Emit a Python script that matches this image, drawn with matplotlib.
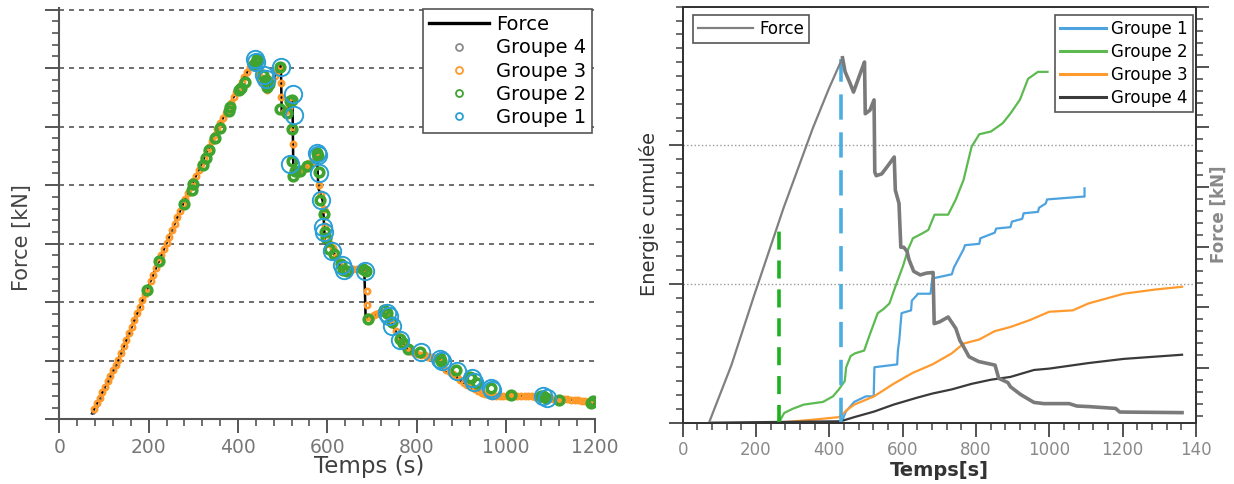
import numpy as np
import matplotlib
matplotlib.use('Agg')
import matplotlib.pyplot as plt
from matplotlib.lines import Line2D
from matplotlib.ticker import MultipleLocator

## force curve (same test on both panels)
force_t = [73, 133, 195, 275, 355, 399, 436, 443, 457, 466, 479, 488, 496, 498, 511, 522, 524, 528,
           543, 564, 577, 580, 590, 595, 603, 612, 617, 630, 648, 665, 683, 686, 701, 724, 745, 756,
           763, 781, 807, 852, 862, 887, 894, 922, 958, 985, 1054, 1075, 1109, 1181, 1192, 1362]
force_v = [0.10, 1.04, 2.20, 3.65, 4.98, 5.64, 6.15, 5.92, 5.72, 5.58, 5.80, 5.95, 6.08, 5.22, 5.28,
           5.45, 4.25, 4.19, 4.22, 4.39, 4.50, 3.95, 3.73, 3.00, 3.00, 2.93, 2.80, 2.60, 2.54, 2.57,
           2.58, 1.73, 1.76, 1.84, 1.65, 1.45, 1.38, 1.18, 1.10, 1.04, 0.82, 0.75, 0.68, 0.55, 0.42,
           0.40, 0.40, 0.36, 0.35, 0.32, 0.26, 0.25]
i_peak = 6

## left panel : events per group (time, force)
g4_t = [76, 82, 90, 100, 108, 114, 120, 126, 140, 156, 170, 250, 290, 320, 340]
g4_v = [0.13, 0.22, 0.36, 0.52, 0.65, 0.74, 0.85, 0.94, 1.17, 1.47, 1.73, 3.21, 3.90, 4.40, 4.73]

g3_t = [78, 84, 90, 96, 102, 108, 114, 120, 126, 132, 138, 144, 150, 156, 162, 168, 174, 180, 186,
        192, 198, 204, 210, 216, 222, 228, 234, 240, 246, 252, 258, 264, 270, 276, 282, 288, 294,
        300, 306, 312, 318, 324, 330, 336, 342, 348, 354, 360, 366, 372, 378, 384, 390, 396, 402,
        408, 414, 420, 426, 432,
        440, 446, 452, 458, 464, 470, 476, 482, 488, 494, 497, 497, 502, 508, 514, 520, 523, 523,
        530, 536, 542, 548, 554, 560, 566, 572, 578, 582, 586, 592, 594, 598, 606, 612, 620, 626,
        634, 642, 650, 658, 666, 674, 682, 688, 688, 692, 698, 704, 710, 716, 722, 730, 738, 746,
        754, 762, 770, 778, 786, 794, 802, 810, 818, 826, 834, 842, 850, 858, 866, 874, 882, 890,
        898, 906, 914, 922, 930, 938, 946, 954, 962, 970, 978, 986, 994, 1002, 1010, 1018, 1026,
        1034, 1042, 1050, 1058, 1066, 1074, 1082, 1090, 1098, 1106, 1114, 1122, 1130, 1138, 1146,
        1154, 1162, 1170, 1178, 1186, 1194]
g3_v = [0.18, 0.27, 0.37, 0.46, 0.55, 0.65, 0.74, 0.84, 0.93, 1.02, 1.13, 1.25, 1.36, 1.47, 1.58,
        1.69, 1.81, 1.92, 2.03, 2.14, 2.25, 2.36, 2.47, 2.58, 2.69, 2.80, 2.91, 3.01, 3.12, 3.23,
        3.34, 3.45, 3.56, 3.67, 3.77, 3.87, 3.97, 4.07, 4.16, 4.26, 4.36, 4.46, 4.56, 4.66, 4.76,
        4.86, 4.96, 5.06, 5.14, 5.23, 5.32, 5.41, 5.50, 5.59, 5.68, 5.76, 5.84, 5.93, 6.01, 6.09,
        6.00, 5.88, 5.78, 5.72, 5.62, 5.70, 5.78, 5.86, 5.95, 6.04, 5.75, 5.50, 5.25, 5.27, 5.33,
        5.42, 5.00, 4.70, 4.20, 4.20, 4.22, 4.28, 4.33, 4.37, 4.40, 4.45, 4.48, 4.00, 3.85, 3.60,
        3.30, 3.10, 3.00, 2.93, 2.78, 2.65, 2.58, 2.55, 2.54, 2.56, 2.57, 2.57, 2.57, 2.20, 1.95,
        1.74, 1.75, 1.78, 1.80, 1.82, 1.84, 1.82, 1.75, 1.62, 1.50, 1.40, 1.30, 1.22, 1.16, 1.13,
        1.12, 1.10, 1.09, 1.07, 1.06, 1.05, 1.04, 0.95, 0.85, 0.80, 0.77, 0.72, 0.67, 0.62, 0.58,
        0.55, 0.52, 0.48, 0.45, 0.43, 0.41, 0.40, 0.40, 0.40, 0.40, 0.40, 0.40, 0.40, 0.40, 0.40,
        0.40, 0.40, 0.39, 0.38, 0.37, 0.37, 0.36, 0.36, 0.35, 0.35, 0.34, 0.34, 0.34, 0.33, 0.33,
        0.33, 0.32, 0.32, 0.30, 0.28]

g2_t = [196, 223, 278, 296, 300, 321, 329, 335, 349, 360, 379, 382, 403, 406, 416, 435, 442, 440,
        457, 462, 465, 470, 495, 494, 510, 517, 521, 521, 521, 524, 528, 540, 554, 578, 580, 581,
        584, 592, 595, 597, 604, 615, 630, 636, 644, 680, 686, 691, 728, 733, 746, 763, 770, 781,
        808, 852, 855, 888, 920, 923, 935, 968, 1012, 1080, 1083, 1090, 1120, 1190, 1195]
g2_v = [2.21, 2.70, 3.67, 3.91, 4.02, 4.34, 4.46, 4.60, 4.81, 4.98, 5.27, 5.33, 5.62, 5.66, 5.77,
        6.06, 6.15, 6.10, 5.89, 5.80, 5.67, 5.72, 6.02, 5.30, 5.24, 5.44, 5.45, 4.96, 4.42, 4.16,
        4.25, 4.25, 4.33, 4.55, 4.50, 4.22, 3.74, 3.51, 3.20, 3.10, 2.91, 2.83, 2.66, 2.55, 2.54,
        2.56, 2.54, 1.72, 1.86, 1.81, 1.66, 1.38, 1.30, 1.20, 1.15, 1.04, 1.00, 0.84, 0.72, 0.70,
        0.62, 0.53, 0.41, 0.40, 0.39, 0.36, 0.33, 0.27, 0.32]

g1_t = [437, 441, 458, 462, 497, 523, 525, 517, 580, 578, 582, 586, 590, 592, 611, 632, 638, 685,
        734, 738, 746, 762, 810, 852, 856, 890, 925, 928, 968, 970, 1083, 1092]
g1_v = [6.15, 6.10, 5.88, 5.82, 6.02, 5.55, 5.20, 4.36, 4.52, 4.55, 4.20, 3.74, 3.28, 3.20, 2.88,
        2.63, 2.55, 2.54, 1.82, 1.76, 1.60, 1.36, 1.15, 1.03, 1.00, 0.82, 0.70, 0.64, 0.53, 0.50,
        0.40, 0.36]

## right panel : cumulated energy per group
e1_t = [433, 445, 468, 500, 521, 523, 585, 587, 591, 594, 597, 623, 625, 639, 641, 676, 681, 734,
        740, 766, 770, 809, 812, 851, 855, 894, 898, 926, 930, 969, 972, 990, 994, 1090, 1096, 1096]
e1_v = [0.00, 0.08, 0.15, 0.19, 0.19, 0.40, 0.42, 0.52, 0.60, 0.70, 0.79, 0.81, 0.88, 0.92, 0.93,
        0.93, 1.04, 1.07, 1.12, 1.25, 1.28, 1.29, 1.33, 1.37, 1.40, 1.41, 1.45, 1.47, 1.51, 1.52,
        1.55, 1.58, 1.61, 1.63, 1.63, 1.69]
e2_t = [262, 277, 300, 330, 383, 410, 426, 442, 446, 458, 470, 495, 511, 532, 548, 564, 580, 601,
        615, 628, 650, 670, 687, 724, 745, 766, 788, 809, 841, 873, 894, 920, 942, 969, 995]
e2_v = [0.00, 0.07, 0.10, 0.13, 0.15, 0.19, 0.24, 0.30, 0.40, 0.48, 0.50, 0.52, 0.64, 0.79, 0.82,
        0.86, 0.98, 1.13, 1.25, 1.33, 1.36, 1.39, 1.50, 1.50, 1.61, 1.75, 1.99, 2.08, 2.10, 2.16,
        2.23, 2.33, 2.48, 2.53, 2.53]
e3_t = [262, 350, 426, 436, 447, 468, 522, 575, 628, 681, 734, 766, 809, 851, 894, 947, 1000, 1064,
        1107, 1203, 1288, 1362]
e3_v = [0.00, 0.02, 0.04, 0.06, 0.09, 0.13, 0.19, 0.28, 0.36, 0.42, 0.50, 0.57, 0.60, 0.66, 0.69,
        0.74, 0.80, 0.81, 0.86, 0.93, 0.96, 0.98]
e4_t = [75, 431, 468, 522, 575, 639, 681, 734, 788, 841, 894, 958, 1000, 1107, 1203, 1362]
e4_v = [0.00, 0.01, 0.04, 0.08, 0.13, 0.18, 0.21, 0.24, 0.28, 0.31, 0.33, 0.38, 0.39, 0.43, 0.46,
        0.49]

t_green, e_green = 262, 1.44   # green dashed marker
t_blue, e_blue = 433, 2.62     # blue dashed marker

xticks_r = [0, 200, 400, 600, 800, 1000, 1200, 1400]
xlabels_r = ['0', '200', '400', '600', '800', '1000', '1200', '140']

c_g4, c_g3, c_g2, c_g1 = '#8a8a8a', '#ff9a2a', '#3ea32f', '#2a9fd6'
tickc = '#555555'

fig = plt.figure(figsize=(12.34, 4.84), dpi=100)

##### left panel
ax = fig.add_axes([0.0482, 0.1337, 0.434, 0.849])
ax.plot(force_t, force_v, color='black', lw=1.8, zorder=2)
ax.plot(g4_t, g4_v, 'o', ms=2.2, mfc='none', mec='#555555', mew=1.0, zorder=3)
ax.plot(g3_t, g3_v, 'o', ms=3.8, mfc='none', mec=c_g3, mew=1.9, zorder=4)
ax.plot(g2_t, g2_v, 'o', ms=6.2, mfc='none', mec=c_g2, mew=2.6, zorder=5)
ax.plot(g1_t, g1_v, 'o', ms=12.5, mfc='none', mec=c_g1, mew=1.4, zorder=6)

ax.set_xlim(0, 1200)
ax.set_ylim(0, 7.02)
ax.set_yticks([0, 1, 2, 3, 4, 5, 6, 7])
ax.yaxis.set_minor_locator(MultipleLocator(0.2))
ax.xaxis.set_major_locator(MultipleLocator(200))
ax.xaxis.set_minor_locator(MultipleLocator(40))
ax.set_yticklabels([])
for v in [1, 2, 3, 4, 5, 6, 7]:
    ax.axhline(v, color='#555555', lw=1.2, ls=(0, (3, 3)), zorder=1, clip_on=False)
ax.spines['top'].set_visible(False)
ax.spines['right'].set_visible(False)
for s in ['left', 'bottom']:
    ax.spines[s].set_color(tickc)
    ax.spines[s].set_linewidth(1.5)
ax.tick_params(which='major', direction='out', length=10, width=1.4, color=tickc,
               labelsize=13.5, labelcolor='#777777')
ax.tick_params(which='minor', direction='out', length=5, width=1.2, color=tickc)
fig.text(369.5 / 1234, 1 - 467 / 484, 'Temps (s)', fontsize=16.5, color='#404040',
         ha='center', va='center')
fig.text(22 / 1234, 1 - 238 / 484, 'Force [kN]', fontsize=15, color='#444444',
         rotation=90, ha='center', va='center')

hl = [Line2D([], [], color='black', lw=2.4),
      Line2D([], [], ls='none', marker='o', ms=5, mfc='none', mec=c_g4, mew=1.3),
      Line2D([], [], ls='none', marker='o', ms=5, mfc='none', mec=c_g3, mew=1.3),
      Line2D([], [], ls='none', marker='o', ms=5, mfc='none', mec=c_g2, mew=1.3),
      Line2D([], [], ls='none', marker='o', ms=5, mfc='none', mec=c_g1, mew=1.3)]
leg = ax.legend(hl, ['Force', 'Groupe 4', 'Groupe 3', 'Groupe 2', 'Groupe 1'],
                loc='upper right', bbox_to_anchor=(0.994, 0.998), borderaxespad=0,
                fontsize=14, fancybox=False, framealpha=1, edgecolor='#555555',
                handlelength=3.1, handletextpad=0.35, labelspacing=0.22, borderpad=0.3)
leg.get_frame().set_linewidth(1.2)

##### right panel
ax2 = fig.add_axes([0.5532, 0.1267, 0.416, 0.8595])
ax2.plot(e1_t, e1_v, color='#4da3df', lw=1.6, label='Groupe 1')
ax2.plot(e2_t, e2_v, color='#5cba50', lw=1.6, label='Groupe 2')
ax2.plot(e3_t, e3_v, color='#ff9a2e', lw=1.6, label='Groupe 3')
ax2.plot(e4_t, e4_v, color='#3a3a3a', lw=1.6, label='Groupe 4')
ax2.plot([t_green, t_green], [0, e_green], color='#1fb01f', lw=2.6, dashes=(5, 3))
ax2.plot([t_blue, t_blue], [0, e_blue], color='#4aaee0', lw=2.6, dashes=(7, 3.5))
for v in [1, 2]:
    ax2.axhline(v, color='#999999', lw=1.0, ls=':', zorder=0)
ax2.set_xlim(0, 1400)
ax2.set_ylim(0, 3)
ax2.set_xticks(xticks_r)
ax2.set_xticklabels(xlabels_r)
ax2.xaxis.set_minor_locator(MultipleLocator(40))
ax2.set_yticks([0, 1, 2])
ax2.yaxis.set_minor_locator(MultipleLocator(0.1))
ax2.set_yticklabels([])
for s in ax2.spines.values():
    s.set_color('#333333')
    s.set_linewidth(1.3)
ax2.tick_params(which='major', direction='out', length=10, width=1.3, color='#444444',
                labelsize=12, labelcolor='#8a8a8a')
ax2.tick_params(which='minor', direction='out', length=5, width=1.1, color='#444444')
ax2.set_xlabel('Temps[s]', fontsize=14, fontweight='bold', color='#333333', labelpad=1)
fig.text(649 / 1234, 1 - 214 / 484, 'Energie cumulée', fontsize=14, color='#333333',
         rotation=90, ha='center', va='center')
leg2 = ax2.legend(loc='upper right', bbox_to_anchor=(0.994, 0.980), borderaxespad=0,
                  fontsize=12, fancybox=False, framealpha=1, edgecolor='#555555',
                  handlelength=2.8, handletextpad=0.3, labelspacing=0.3, borderpad=0.3)
leg2.get_frame().set_linewidth(1.2)
for ln in leg2.get_lines():
    ln.set_linewidth(2.2)

ax3 = ax2.twinx()
ax3.plot(force_t[:i_peak + 1], force_v[:i_peak + 1], color='#808080', lw=1.6, label='Force')
ax3.plot(force_t[i_peak:], force_v[i_peak:], color='#7a7a7a', lw=2.6)
ax3.set_ylim(0.083, 7.0)
ax3.set_yticks([1, 2, 3, 4, 5, 6, 7])
ax3.yaxis.set_minor_locator(MultipleLocator(0.2))
ax3.set_yticklabels([])
ax3.tick_params(which='major', direction='out', length=9, width=1.3, color='#444444')
ax3.tick_params(which='minor', direction='out', length=5, width=1.1, color='#444444')
for s in ax3.spines.values():
    s.set_color('#333333')
    s.set_linewidth(1.3)
fig.text(1219 / 1234, 1 - 214 / 484, 'Force [kN]', fontsize=12, color='#888888',
         fontweight='bold', rotation=90, ha='center', va='center')
leg3 = ax3.legend(loc='upper left', bbox_to_anchor=(0.0195, 0.980), borderaxespad=0,
                  fontsize=12, fancybox=False, framealpha=1, edgecolor='#555555',
                  handlelength=3.3, handletextpad=0.4, borderpad=0.3)
leg3.get_frame().set_linewidth(1.2)

plt.savefig('out.png', dpi=100, format='png')
